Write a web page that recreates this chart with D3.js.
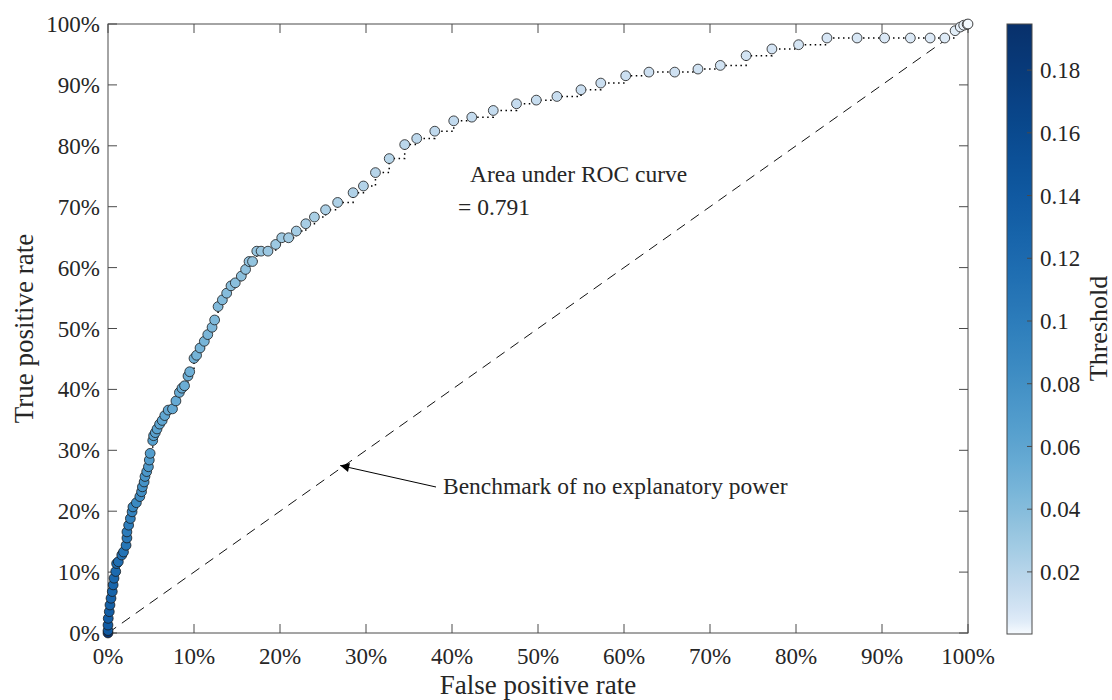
<!DOCTYPE html>
<html>
<head>
<meta charset="utf-8">
<script src="https://cdn.jsdelivr.net/npm/d3@7"></script>
<style>
  html, body { margin: 0; padding: 0; background: #fff; }
  svg { display: block; }
  text { font-family: "Liberation Serif", "Times New Roman", serif; fill: #262626; }
</style>
</head>
<body>
<svg id="chart" width="1112" height="700"></svg>
<script>
// ---------- data ----------
const fpr = [0, 0, 0.0, 0.03, 0.15, 0.23, 0.35, 0.5, 0.6, 0.7, 0.9, 1.0, 1.2, 1.6, 1.8, 2.1, 2.2, 2.2, 2.4, 2.6,
  2.8, 2.9, 3.3, 3.7, 3.9, 4.0, 4.2, 4.3, 4.5, 4.7, 4.8, 4.9, 5.2, 5.3, 5.5, 5.7, 6.0, 6.3, 6.6, 7.0,
  7.5, 7.9, 8.3, 8.6, 8.9, 9.3, 9.5, 10.0, 10.3, 10.7, 11.2, 11.6, 12.1, 12.4, 12.8, 13.3, 13.8, 14.3, 14.8, 15.5,
  16.0, 16.4, 16.8, 17.3, 17.8, 18.6, 19.5, 20.2, 21.0, 21.9, 23.0, 24.0, 25.3, 26.7, 28.5, 29.7, 31.1, 32.7, 34.5, 35.9,
  38.0, 40.2, 42.3, 44.8, 47.5, 49.8, 52.2, 55.0, 57.3, 60.2, 62.9, 65.9, 68.6, 71.2, 74.2, 77.2, 80.3, 83.6, 87.1, 90.3,
  93.3, 95.6, 97.3, 98.5, 99.1, 99.5, 99.9, 100];
const tpr = [0, 0.4, 1.3, 2.4, 3.5, 4.6, 5.7, 6.8, 7.9, 9.0, 10.1, 11.4, 11.7, 12.8, 13.3, 14.4, 15.6, 16.6, 17.7, 18.8,
  19.9, 20.7, 21.4, 22.4, 23.2, 24.0, 24.8, 25.7, 26.5, 27.3, 28.4, 29.5, 31.6, 32.4, 32.9, 33.5, 34.3, 34.9, 35.7, 36.6,
  36.8, 38.1, 39.5, 40.2, 40.6, 42.2, 42.9, 45.1, 45.6, 46.8, 47.9, 49.0, 50.2, 51.4, 53.6, 54.7, 55.8, 57.0, 57.5, 58.6,
  59.7, 61.0, 61.0, 62.7, 62.7, 62.7, 63.8, 64.9, 64.9, 66.0, 67.2, 68.3, 69.5, 70.7, 72.3, 73.4, 75.6, 77.9, 80.2, 81.2,
  82.4, 84.1, 84.7, 85.8, 86.9, 87.5, 88.1, 89.2, 90.3, 91.5, 92.1, 92.1, 92.6, 93.2, 94.8, 95.9, 96.6, 97.7, 97.7, 97.7,
  97.7, 97.7, 97.7, 98.9, 99.5, 99.8, 99.95, 100];
const threshold = [0.19, 0.14, 0.137, 0.135, 0.133, 0.131, 0.129, 0.127, 0.125, 0.122, 0.12, 0.117, 0.115, 0.112, 0.11, 0.107, 0.104, 0.101, 0.098, 0.095,
  0.092, 0.089, 0.086, 0.083, 0.081, 0.079, 0.077, 0.075, 0.073, 0.071, 0.069, 0.067, 0.065, 0.064, 0.063, 0.062, 0.061, 0.06, 0.059, 0.058,
  0.057, 0.056, 0.055, 0.054, 0.053, 0.052, 0.051, 0.049, 0.048, 0.047, 0.046, 0.045, 0.044, 0.043, 0.042, 0.041, 0.04, 0.039, 0.038, 0.037,
  0.036, 0.035, 0.034, 0.033, 0.032, 0.031, 0.03, 0.029, 0.028, 0.027, 0.026, 0.025, 0.024, 0.023, 0.022, 0.021, 0.02, 0.019, 0.018, 0.017,
  0.016, 0.015, 0.0145, 0.014, 0.0135, 0.013, 0.0125, 0.012, 0.0115, 0.011, 0.0105, 0.01, 0.0095, 0.009, 0.0085, 0.008, 0.0075, 0.007, 0.0065, 0.006,
  0.0055, 0.005, 0.0045, 0.0035, 0.0025, 0.002, 0.001, 0.0005];
const xTicks = [0, 10, 20, 30, 40, 50, 60, 70, 80, 90, 100];
const yTicks = [0, 10, 20, 30, 40, 50, 60, 70, 80, 90, 100];
const cbarTicks = [0.02, 0.04, 0.06, 0.08, 0.1, 0.12, 0.14, 0.16, 0.18];
const cbarTickLabels = ["0.02", "0.04", "0.06", "0.08", "0.1", "0.12", "0.14", "0.16", "0.18"];
const cbarDomain = [0.0002, 0.1947];
const benchmark = [[0, 0], [100, 100]];
const aucText = ["Area under ROC curve", "= 0.791"];
const benchText = "Benchmark of no explanatory power";

// ---------- layout ----------
const svg = d3.select("#chart");
const L = 108, R = 968, T = 24, B = 633;
const x = d3.scaleLinear().domain([0, 100]).range([L, R]);
const y = d3.scaleLinear().domain([0, 100]).range([B, T]);
const color = d3.scaleSequentialSqrt(d3.interpolateBlues).domain(cbarDomain);
const axisColor = "#4a4a4a";
const tickLen = 9;

// box
svg.append("rect").attr("x", L).attr("y", T).attr("width", R - L).attr("height", B - T)
  .attr("fill", "none").attr("stroke", axisColor).attr("stroke-width", 1);

// ticks (inward, mirrored)
const g = svg.append("g");
xTicks.forEach(t => {
  g.append("line").attr("x1", x(t)).attr("x2", x(t)).attr("y1", B).attr("y2", B - tickLen).attr("stroke", axisColor);
  g.append("line").attr("x1", x(t)).attr("x2", x(t)).attr("y1", T).attr("y2", T + tickLen).attr("stroke", axisColor);
  g.append("text").attr("x", x(t)).attr("y", 664).attr("text-anchor", "middle")
    .attr("font-size", 23).text(t + "%");
});
yTicks.forEach(t => {
  g.append("line").attr("x1", L).attr("x2", L + tickLen).attr("y1", y(t)).attr("y2", y(t)).attr("stroke", axisColor);
  g.append("line").attr("x1", R).attr("x2", R - tickLen).attr("y1", y(t)).attr("y2", y(t)).attr("stroke", axisColor);
  g.append("text").attr("x", 100).attr("y", y(t)).attr("dy", "0.35em").attr("text-anchor", "end")
    .attr("font-size", 23).text(t + "%");
});

// axis labels
svg.append("text").attr("x", (L + R) / 2).attr("y", 694).attr("text-anchor", "middle")
  .attr("font-size", 27).text("False positive rate");
svg.append("text").attr("transform", `translate(33,${(T + B) / 2}) rotate(-90)`).attr("text-anchor", "middle")
  .attr("font-size", 27).text("True positive rate");

// benchmark dashed line
svg.append("line").attr("x1", x(benchmark[0][0])).attr("y1", y(benchmark[0][1]))
  .attr("x2", x(benchmark[1][0])).attr("y2", y(benchmark[1][1]))
  .attr("stroke", "#111").attr("stroke-width", 1).attr("stroke-dasharray", "10,7");

// ROC dotted step line
const pts = fpr.map((f, i) => ({ f, t: tpr[i], th: threshold[i] }));
const line = d3.line().x(d => x(d.f)).y(d => y(d.t)).curve(d3.curveStepAfter);
svg.append("path").attr("d", line(pts)).attr("fill", "none").attr("stroke", "#000")
  .attr("stroke-width", 1.5).attr("stroke-dasharray", "1.5,3.5");

// markers
svg.append("g").selectAll("circle").data(pts).join("circle")
  .attr("cx", d => x(d.f)).attr("cy", d => y(d.t)).attr("r", 4.9)
  .attr("fill", d => color(d.th)).attr("stroke", "#1a1a1a").attr("stroke-width", 0.8);

// annotations
svg.append("text").attr("x", 470).attr("y", 182).attr("font-size", 23.5).text(aucText[0]);
svg.append("text").attr("x", 458).attr("y", 215).attr("font-size", 23.5).text(aucText[1]);
svg.append("text").attr("x", 443).attr("y", 494).attr("font-size", 23.5).text(benchText);

// arrow
const defs = svg.append("defs");
defs.append("marker").attr("id", "ah").attr("viewBox", "0 0 10 10").attr("refX", 10).attr("refY", 5)
  .attr("markerWidth", 11).attr("markerHeight", 9).attr("markerUnits", "userSpaceOnUse").attr("orient", "auto")
  .append("path").attr("d", "M0,0 L10,5 L0,10 Z").attr("fill", "#000");
svg.append("line").attr("x1", 436).attr("y1", 487).attr("x2", x(27)).attr("y2", y(27.5))
  .attr("stroke", "#000").attr("stroke-width", 1).attr("marker-end", "url(#ah)");

// colorbar
const cbL = 1007, cbW = 25;
const cy = d3.scaleLinear().domain(cbarDomain).range([B + 1, T]);
const grad = defs.append("linearGradient").attr("id", "cbg").attr("x1", 0).attr("y1", 1).attr("x2", 0).attr("y2", 0);
d3.range(0, 1.0001, 0.02).forEach(s => {
  const v = cbarDomain[0] + s * (cbarDomain[1] - cbarDomain[0]);
  grad.append("stop").attr("offset", s).attr("stop-color", color(v));
});
svg.append("rect").attr("x", cbL).attr("y", T).attr("width", cbW).attr("height", B + 1 - T)
  .attr("fill", "url(#cbg)").attr("stroke", axisColor).attr("stroke-width", 1);
cbarTicks.forEach((t, i) => {
  svg.append("line").attr("x1", cbL + cbW).attr("x2", cbL + cbW - 5).attr("y1", cy(t)).attr("y2", cy(t))
    .attr("stroke", axisColor);
  svg.append("text").attr("x", 1040).attr("y", cy(t)).attr("dy", "0.35em").attr("font-size", 23)
    .text(cbarTickLabels[i]);
});
svg.append("text").attr("transform", `translate(1098,${(T + B) / 2}) rotate(-90)`).attr("dy", "0.35em")
  .attr("text-anchor", "middle").attr("font-size", 26).text("Threshold");
</script>
</body>
</html>
